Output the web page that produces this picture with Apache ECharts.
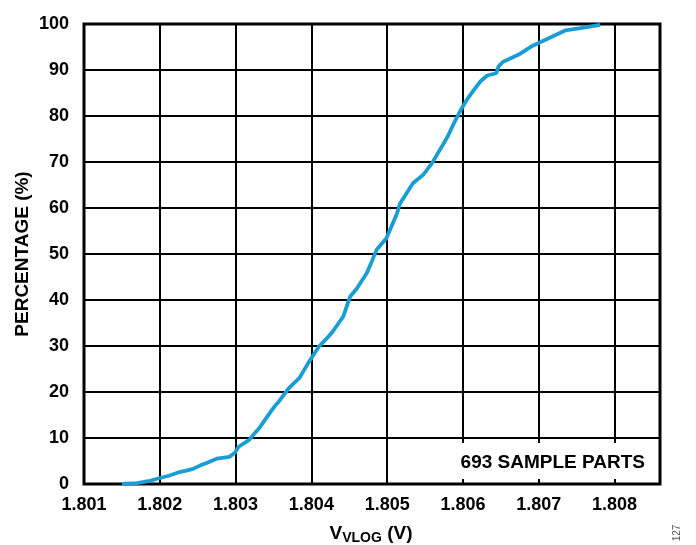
<!DOCTYPE html>
<html>
<head>
<meta charset="utf-8">
<script src="https://cdn.jsdelivr.net/npm/echarts@6/dist/echarts.min.js"></script>
<style>
html,body{margin:0;padding:0;background:#fff;}
#c{width:696px;height:545px;}
</style>
</head>
<body>
<div id="c"></div>
<script>
// Data
const vlog = [1.80150,1.80170,1.80185,1.80200,1.80212,1.80226,1.80235,1.80244,1.80253,1.80265,1.80275,
  1.80292,1.80299,1.80304,1.80318,1.80325,1.80331,1.80345,1.80352,1.80357,1.80370,1.80375,1.80384,1.80397,
  1.80410,1.80420,1.80428,1.80436,1.80442,1.80451,1.80460,1.80473,1.80480,1.80486,1.80499,1.80513,1.80517,
  1.80534,1.80548,1.80559,1.80572,1.80580,1.80588,1.80597,1.80605,1.80615,1.80623,1.80632,1.80644,1.80647,1.80653,
  1.80673,1.80690,1.80704,1.80735,1.80755,1.80781];
const percentage = [0,0.2,0.6,1.3,1.8,2.6,2.9,3.3,4.0,4.8,5.5,
  5.9,6.8,8.1,9.6,11.0,12.1,15.4,17.0,17.9,20.8,21.6,23.0,26.6,
  29.9,31.6,33.1,35.0,36.4,40.7,42.5,45.8,48.5,50.9,53.4,58.8,61.0,
  65.4,67.3,69.7,73.3,75.6,78.4,81.3,83.5,85.8,87.5,88.8,89.3,90.8,91.8,
  93.3,95.1,96.2,98.6,99.1,99.8];
const xMin = 1.801, xMax = 1.8086, xStep = 0.001;
const yMin = 0, yMax = 100, yStep = 10;
const yTitle = 'PERCENTAGE (%)';
const annotation = '693 SAMPLE PARTS';
const figNo = '127';

const FONT = '"Liberation Sans", Arial, sans-serif';
const chart = echarts.init(document.getElementById('c'), null, {renderer:'canvas'});
chart.setOption({
  animation: false,
  backgroundColor: '#fff',
  grid: {left: 84, right: 36, top: 24, bottom: 61, show: true, borderColor: '#000', borderWidth: 3, backgroundColor: 'transparent'},
  xAxis: {
    type: 'value', min: xMin, max: xMax, interval: xStep,
    axisLine: {show: false}, axisTick: {show: false},
    splitLine: {show: true, lineStyle: {color: '#000', width: 2}},
    axisLabel: {
      margin: 12, color: '#000', fontFamily: FONT, fontWeight: 'bold', fontSize: 18,
      showMaxLabel: false,
      formatter: v => (Math.abs(v*1000 - Math.round(v*1000)) < 0.01 ? v.toFixed(3) : '')
    }
  },
  yAxis: {
    type: 'value', min: yMin, max: yMax, interval: yStep,
    axisLine: {show: false}, axisTick: {show: false},
    splitLine: {show: true, lineStyle: {color: '#000', width: 2}},
    axisLabel: {margin: 15, color: '#000', fontFamily: FONT, fontWeight: 'bold', fontSize: 18}
  },
  series: [{
    type: 'line',
    data: vlog.map((x, i) => [x, percentage[i]]),
    showSymbol: false, symbol: 'none',
    lineStyle: {color: '#1a9dd4', width: 3.8},
    z: 5
  }],
  graphic: [
    {type: 'rect', z: 100, shape: {x: 389, y: 443, width: 269, height: 36}, style: {fill: '#fff'}},
    {type: 'text', z: 101, x: 645, y: 463, style: {text: annotation, fill: '#000', font: 'bold 19px ' + FONT, textAlign: 'right', textVerticalAlign: 'middle'}},
    {type: 'text', z: 101, x: 23, y: 254, rotation: Math.PI/2, style: {text: yTitle, fill: '#000', font: 'bold 19px ' + FONT, textAlign: 'center', textVerticalAlign: 'middle'}},
    {type: 'text', z: 101, x: 371, y: 524, style: {
      text: '{a|V}{b|VLOG}{a| (V)}', textAlign: 'center', textVerticalAlign: 'top',
      rich: {
        a: {fontFamily: FONT, fontWeight: 'bold', fontSize: 19, fill: '#000', color: '#000', verticalAlign: 'top'},
        b: {fontFamily: FONT, fontWeight: 'bold', fontSize: 14, fill: '#000', color: '#000', verticalAlign: 'top', padding: [7,0,0,0]}
      }
    }},
    {type: 'text', z: 101, x: 677, y: 533, rotation: Math.PI/2, style: {text: figNo, fill: '#555', font: '10px ' + FONT, textAlign: 'center', textVerticalAlign: 'middle'}}
  ]
});
</script>
</body>
</html>
